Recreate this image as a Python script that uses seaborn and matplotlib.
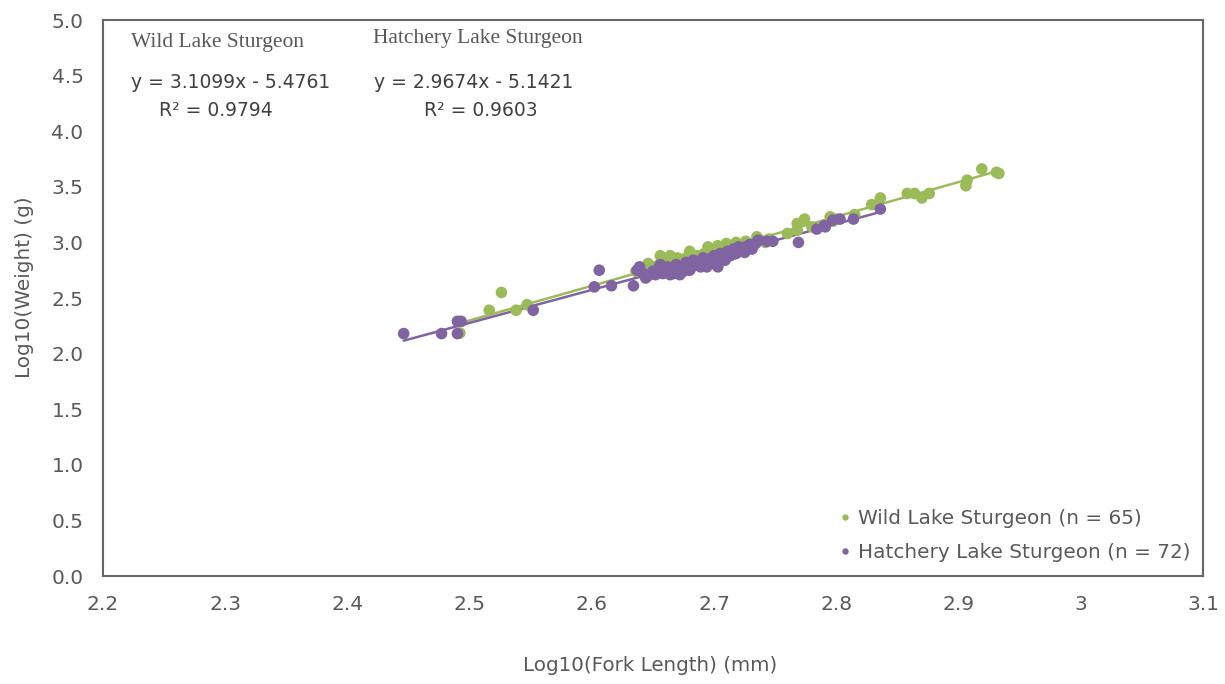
import numpy as np
import pandas as pd
import matplotlib
matplotlib.use("Agg")
import matplotlib.pyplot as plt
import seaborn as sns

# ---- data ----
wild_x = [2.492, 2.516, 2.526, 2.538, 2.547, 2.646, 2.656, 2.664, 2.672, 2.680,
          2.695, 2.703, 2.710, 2.718, 2.726, 2.735, 2.768, 2.768, 2.774, 2.795,
          2.797, 2.829, 2.836, 2.858, 2.864, 2.870, 2.876, 2.906, 2.907, 2.919,
          2.931, 2.933,
          2.636, 2.640, 2.645, 2.650, 2.655, 2.660, 2.662, 2.666, 2.670, 2.674,
          2.677, 2.682, 2.686, 2.690, 2.692, 2.697, 2.700, 2.702, 2.706, 2.709,
          2.712, 2.715, 2.720, 2.724, 2.728, 2.732, 2.738, 2.742, 2.745, 2.760,
          2.780, 2.800, 2.815]
wild_y = [2.185, 2.39, 2.55, 2.39, 2.44, 2.81, 2.88, 2.88, 2.84, 2.92,
          2.96, 2.97, 2.99, 3.00, 3.01, 3.05, 3.17, 3.11, 3.21, 3.23,
          3.19, 3.34, 3.40, 3.44, 3.44, 3.40, 3.44, 3.51, 3.56, 3.66,
          3.63, 3.62,
          2.74, 2.76, 2.72, 2.78, 2.80, 2.76, 2.82, 2.80, 2.86, 2.80,
          2.86, 2.84, 2.88, 2.83, 2.90, 2.88, 2.90, 2.86, 2.93, 2.90,
          2.95, 2.92, 2.97, 2.94, 2.99, 2.97, 3.02, 3.00, 3.03, 3.08,
          3.14, 3.21, 3.25]

hatch_x = [2.446, 2.477, 2.490, 2.493, 2.490, 2.552, 2.602, 2.606, 2.616, 2.634,
           2.637, 2.639, 2.644, 2.652, 2.656, 2.664, 2.672, 2.680, 2.694, 2.703,
           2.715, 2.725, 2.736, 2.743, 2.769, 2.791, 2.797, 2.803, 2.814, 2.836,
           2.642, 2.646, 2.650, 2.654, 2.658, 2.660, 2.662, 2.665, 2.667, 2.669,
           2.671, 2.673, 2.675, 2.677, 2.679, 2.681, 2.683, 2.685, 2.687, 2.689,
           2.691, 2.693, 2.696, 2.698, 2.700, 2.702, 2.705, 2.707, 2.709, 2.711,
           2.713, 2.716, 2.718, 2.720, 2.722, 2.726, 2.729, 2.731, 2.734, 2.748,
           2.784, 2.790]
hatch_y = [2.18, 2.18, 2.29, 2.29, 2.18, 2.39, 2.60, 2.75, 2.61, 2.61,
           2.75, 2.78, 2.68, 2.71, 2.80, 2.71, 2.71, 2.75, 2.78, 2.78,
           2.89, 2.91, 3.02, 3.01, 3.00, 3.14, 3.20, 3.21, 3.21, 3.30,
           2.72, 2.70, 2.74, 2.76, 2.72, 2.74, 2.78, 2.75, 2.72, 2.80,
           2.76, 2.78, 2.74, 2.82, 2.79, 2.77, 2.84, 2.80, 2.82, 2.78,
           2.86, 2.83, 2.85, 2.81, 2.88, 2.85, 2.90, 2.87, 2.84, 2.92,
           2.88, 2.94, 2.90, 2.96, 2.93, 2.96, 2.98, 2.94, 2.99, 3.01,
           3.12, 3.15]

wild_slope, wild_intercept, wild_r2 = 3.1099, -5.4761, 0.9794
hatch_slope, hatch_intercept, hatch_r2 = 2.9674, -5.1421, 0.9603

wild_label = "Wild Lake Sturgeon (n = 65)"
hatch_label = "Hatchery Lake Sturgeon (n = 72)"

x_ticks = [2.2, 2.3, 2.4, 2.5, 2.6, 2.7, 2.8, 2.9, 3.0, 3.1]
x_tick_labels = ["2.2", "2.3", "2.4", "2.5", "2.6", "2.7", "2.8", "2.9", "3", "3.1"]
y_ticks = [0.0, 0.5, 1.0, 1.5, 2.0, 2.5, 3.0, 3.5, 4.0, 4.5, 5.0]

GREEN = "#9BBB59"
PURPLE = "#8064A2"
GREY = "#595959"

df = pd.concat([
    pd.DataFrame({"x": wild_x, "y": wild_y, "group": wild_label}),
    pd.DataFrame({"x": hatch_x, "y": hatch_y, "group": hatch_label}),
], ignore_index=True)

sns.set_theme(style="white")
plt.rcParams["font.family"] = ["DejaVu Sans"]

fig = plt.figure(figsize=(12.25, 6.84), dpi=100)
ax = fig.add_axes([103 / 1225, 1 - 576 / 684, 1100 / 1225, 556 / 684])

sns.scatterplot(data=df, x="x", y="y", hue="group",
                palette={wild_label: GREEN, hatch_label: PURPLE},
                s=70, linewidth=0, alpha=1.0, ax=ax, zorder=3)

# trendlines
for xs, m, b, c in [(wild_x, wild_slope, wild_intercept, GREEN),
                    (hatch_x, hatch_slope, hatch_intercept, PURPLE)]:
    xx = np.array([min(xs), max(xs)])
    sns.lineplot(x=xx, y=m * xx + b, color=c, linewidth=1.8, ax=ax, zorder=2,
                 legend=False)

ax.set_xlim(2.2, 3.1)
ax.set_ylim(0, 5.0)
ax.set_xticks(x_ticks)
ax.set_xticklabels(x_tick_labels)
ax.set_yticks(y_ticks)
ax.set_yticklabels([f"{v:.1f}" for v in y_ticks])
ax.tick_params(axis="both", length=0, labelsize=14.5, colors=GREY)
ax.tick_params(axis="x", pad=14)
ax.tick_params(axis="y", pad=14)

for sp in ax.spines.values():
    sp.set_visible(True)
    sp.set_color("#666666")
    sp.set_linewidth(1.5)

ax.set_xlabel("Log10(Fork Length) (mm)", fontsize=14.3, color=GREY)
ax.set_ylabel("Log10(Weight) (g)", fontsize=14.4, color=GREY)
ax.xaxis.set_label_coords(0.497, -0.143)
ax.yaxis.set_label_coords(-0.063, 0.52)

leg = ax.legend(loc="lower right", frameon=False, fontsize=14.4,
                handletextpad=0.3, markerscale=0.55, borderaxespad=0.0,
                labelspacing=0.75, handlelength=0.8,
                bbox_to_anchor=(1 - 4 / 1100, 6 / 556))
for t in leg.get_texts():
    t.set_color(GREY)

# annotations
def fx(px):
    return (px - 103) / 1100

def fy(py):
    return (576 - py) / 556

ax.text(fx(131), fy(43), "Wild Lake Sturgeon", transform=ax.transAxes,
        family="Liberation Serif", fontsize=15.5, color=GREY, va="center", ha="left")
ax.text(fx(373), fy(38), "Hatchery Lake Sturgeon", transform=ax.transAxes,
        family="Liberation Serif", fontsize=15.5, color=GREY, va="center", ha="left")
ax.text(fx(131), fy(83), f"y = {wild_slope:.4f}x - {abs(wild_intercept):.4f}",
        transform=ax.transAxes, fontsize=13.5, color="#404040", va="center", ha="left")
ax.text(fx(216), fy(110), f"R² = {wild_r2:.4f}",
        transform=ax.transAxes, fontsize=13.5, color="#404040", va="center", ha="center")
ax.text(fx(374), fy(83), f"y = {hatch_slope:.4f}x - {abs(hatch_intercept):.4f}",
        transform=ax.transAxes, fontsize=13.5, color="#404040", va="center", ha="left")
ax.text(fx(481), fy(110), f"R² = {hatch_r2:.4f}",
        transform=ax.transAxes, fontsize=13.5, color="#404040", va="center", ha="center")

fig.savefig("out.png", dpi=100)
